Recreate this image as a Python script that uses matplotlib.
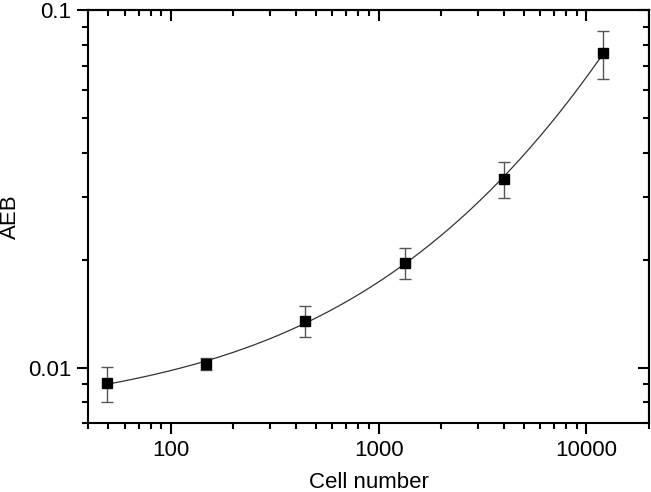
import numpy as np
import matplotlib
matplotlib.use("Agg")
import matplotlib.pyplot as plt
from matplotlib.ticker import FixedLocator, FixedFormatter, NullFormatter, LogLocator

plt.rcParams['font.family'] = ['Liberation Sans', 'DejaVu Sans']

cells = [49.4, 148.1, 444.4, 1333.3, 4000, 12000]
aeb = [0.00904, 0.01024, 0.01354, 0.01963, 0.03373, 0.0758]
aeb_err = [0.00102, 0.00042, 0.00135, 0.00194, 0.0039, 0.0115]
x_ticks = [100, 1000, 10000]
x_ticklabels = ['100', '1000', '10000']
y_ticks = [0.01, 0.1]
y_ticklabels = ['0.01', '0.1']

fig = plt.figure(figsize=(6.51, 4.92), dpi=100)
ax = fig.add_axes([88/651, 1-423/492, (649-88)/651, (423-10.3)/492])
ax.set_xscale('log')
ax.set_yscale('log')
ax.set_xlim(40, 20000)
ax.set_ylim(0.007, 0.1)

# fitted curve (polynomial in log-log space, from the data)
lx = np.log10(cells)
ly = np.log10(aeb)
coef = np.polyfit(lx, ly, 3)
xs = np.logspace(lx[0], lx[-1], 300)
ax.plot(xs, 10**np.polyval(coef, np.log10(xs)), color='#333333', lw=0.9, zorder=2)

ax.errorbar(cells, aeb, yerr=aeb_err, fmt='s', color='black', ecolor='#555555',
            elinewidth=1, capsize=4, capthick=1, markersize=6.5, zorder=3)

for a in (ax.xaxis, ax.yaxis):
    a.set_minor_formatter(NullFormatter())
ax.xaxis.set_major_locator(FixedLocator(x_ticks))
ax.xaxis.set_major_formatter(FixedFormatter(x_ticklabels))
ax.yaxis.set_major_locator(FixedLocator(y_ticks))
ax.yaxis.set_major_formatter(FixedFormatter(y_ticklabels))
ax.xaxis.set_minor_locator(LogLocator(base=10, subs=np.arange(2, 10)))
ax.yaxis.set_minor_locator(LogLocator(base=10, subs=np.arange(2, 10)))

ax.tick_params(which='major', direction='out', length=8, width=1.5, labelsize=16, pad=4)
ax.tick_params(which='minor', direction='out', length=4, width=1.5)
ax.tick_params(top=False, right=False)
for s in ax.spines.values():
    s.set_linewidth(1.5)

sx = ax.secondary_xaxis('top')
sy = ax.secondary_yaxis('right')
for sec, a in ((sx, sx.xaxis), (sy, sy.yaxis)):
    a.set_major_locator(FixedLocator(x_ticks if sec is sx else y_ticks))
    a.set_minor_locator(LogLocator(base=10, subs=np.arange(2, 10)))
    a.set_major_formatter(NullFormatter())
    a.set_minor_formatter(NullFormatter())
    sec.tick_params(which='major', direction='in', length=8, width=1.5)
    sec.tick_params(which='minor', direction='in', length=4, width=1.5)
    for s in sec.spines.values():
        s.set_linewidth(1.5)

ax.set_xlabel('Cell number', fontsize=16, labelpad=8)
ax.set_ylabel('AEB', fontsize=16, labelpad=5)

fig.savefig('out.png', dpi=100)
